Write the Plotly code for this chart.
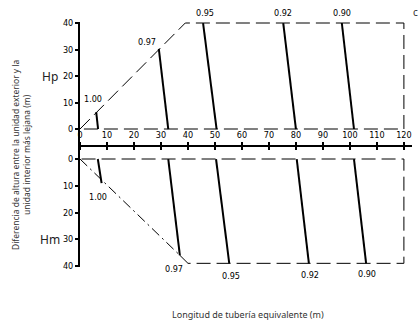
import plotly.graph_objects as go

# ---- data ----
x_ticks = [0, 10, 20, 30, 40, 50, 60, 70, 80, 90, 100, 110, 120]
y_ticks = [0, 10, 20, 30, 40]
factor_labels = ["1.00", "0.97", "0.95", "0.92", "0.90"]

# Hp (outdoor unit above): factor lines from upper end to lower end
hp_upper_x = [6.0, 29.2, 45.6, 75.3, 97.0]
hp_upper_y = [6.4, 30.2, 40.0, 40.0, 40.0]
hp_lower_x = [6.7, 32.7, 50.6, 80.0, 101.5]
hp_lower_y = [0, 0, 0, 0, 0]
hp_bound_x = [0, 39, 120, 120, 0]
hp_bound_y = [0, 40, 40, 0, 0]

# Hm (outdoor unit below)
hm_upper_x = [6.6, 32.7, 50.4, 80.3, 101.5]
hm_upper_y = [0, 0, 0, 0, 0]
hm_lower_x = [8.0, 37.0, 55.3, 84.8, 106.0]
hm_lower_y = [9.0, 36.0, 39.0, 39.0, 39.0]
hm_diag_x = [0, 37]
hm_diag_y = [0, 36]
hm_bound_x = [37, 40, 120, 120, 0]
hm_bound_y = [36, 39, 39, 0, 0]

FONT = "Liberation Sans Narrow, DejaVu Sans Condensed, Arial Narrow, sans-serif"
TITLE_FONT = "Noto Sans, Liberation Sans, sans-serif"

fig = go.Figure()

dash_long = "14px,6px"
fig.add_trace(go.Scatter(x=hp_bound_x, y=hp_bound_y, mode="lines",
                         line=dict(color="black", width=1, dash=dash_long),
                         xaxis="x", yaxis="y", hoverinfo="skip"))
fig.add_trace(go.Scatter(x=hm_bound_x, y=hm_bound_y, mode="lines",
                         line=dict(color="black", width=1, dash=dash_long),
                         xaxis="x2", yaxis="y2", hoverinfo="skip"))
fig.add_trace(go.Scatter(x=hm_diag_x, y=hm_diag_y, mode="lines",
                         line=dict(color="black", width=1, dash="10px,4px,2px,4px"),
                         xaxis="x2", yaxis="y2", hoverinfo="skip"))

for i in range(len(factor_labels)):
    fig.add_trace(go.Scatter(x=[hp_upper_x[i], hp_lower_x[i]], y=[hp_upper_y[i], hp_lower_y[i]],
                             mode="lines", line=dict(color="black", width=2),
                             xaxis="x", yaxis="y", hoverinfo="skip"))
    fig.add_trace(go.Scatter(x=[hm_upper_x[i], hm_lower_x[i]], y=[hm_upper_y[i], hm_lower_y[i]],
                             mode="lines", line=dict(color="black", width=2),
                             xaxis="x2", yaxis="y2", hoverinfo="skip"))

annotations = []
hp_shift = [(-3, 13), (-12, 7), (2, 10), (0, 10), (0, 10)]
for i, lab in enumerate(factor_labels):
    annotations.append(dict(x=hp_upper_x[i], y=hp_upper_y[i], xref="x", yref="y",
                            xanchor="center", yanchor="middle",
                            text=lab, showarrow=False, xshift=hp_shift[i][0], yshift=hp_shift[i][1],
                            font=dict(family=FONT, size=9, color="black")))
hm_shift = [(-4, -14), (-6, -14), (2, -13), (1, -12), (1, -11)]
for i, lab in enumerate(factor_labels):
    annotations.append(dict(x=hm_lower_x[i], y=hm_lower_y[i], xref="x2", yref="y2",
                            xanchor="center", yanchor="middle",
                            text=lab, showarrow=False, xshift=hm_shift[i][0], yshift=hm_shift[i][1],
                            font=dict(family=FONT, size=9, color="black")))

annotations += [
    dict(x=0, y=20, xref="paper", yref="y", xshift=-30, xanchor="center", yanchor="middle",
         text="Hp", showarrow=False, font=dict(family=TITLE_FONT, size=12, color="#222")),
    dict(x=0, y=30, xref="paper", yref="y2", xshift=-30, xanchor="center", yanchor="middle",
         text="Hm", showarrow=False, font=dict(family=TITLE_FONT, size=12, color="#222")),
    dict(x=-0.1777, y=0.457, xref="paper", yref="paper", textangle=-90, showarrow=False,
         xanchor="center", yanchor="middle",
         text="Diferencia de altura entre la unidad exterior y la<br>unidad interior más lejana (m)",
         font=dict(family=TITLE_FONT, size=8.5, color="#333")),
    dict(x=0.506, y=-0.192, xref="paper", yref="paper", showarrow=False,
         xanchor="center", yanchor="middle",
         text="Longitud de tubería equivalente (m)",
         font=dict(family=TITLE_FONT, size=9, color="#333")),
    dict(x=1.012, y=1.041, xref="paper", yref="paper", showarrow=False, text="c",
         xanchor="center", yanchor="middle",
         font=dict(family=TITLE_FONT, size=10, color="#333")),
]

split = 120 / 245
fig.update_layout(
    width=419, height=322,
    margin=dict(l=80, r=7, t=22, b=55),
    paper_bgcolor="white", plot_bgcolor="white",
    showlegend=False,
    annotations=annotations,
    xaxis=dict(domain=[0, 1], range=[0, 123], anchor="y", showgrid=False, zeroline=False,
               showline=False, ticks="", showticklabels=False),
    xaxis2=dict(domain=[0, 1], range=[0, 123], anchor="y2", side="top",
                showgrid=False, zeroline=False, showline=True, linecolor="black", linewidth=2,
                tickvals=x_ticks, ticktext=[str(v) for v in x_ticks],
                ticks="outside", ticklen=3, tickwidth=1.5, tickcolor="black",
                minor=dict(tickvals=x_ticks, ticks="inside", ticklen=3, tickwidth=1.5,
                           tickcolor="black", showgrid=False),
                tickfont=dict(family=FONT, size=9, color="black")),
    yaxis=dict(domain=[split, 1], range=[-6.79, 40.38], anchor="x", showgrid=False, zeroline=False,
               showline=True, linecolor="black", linewidth=2,
               tickvals=y_ticks, ticks="outside", ticklen=3, tickwidth=1.5, tickcolor="black",
               tickfont=dict(family=FONT, size=9, color="black")),
    yaxis2=dict(domain=[0, split], range=[40.37, -4.49], anchor="x2", showgrid=False, zeroline=False,
                showline=True, linecolor="black", linewidth=2,
                tickvals=y_ticks, ticks="outside", ticklen=3, tickwidth=1.5, tickcolor="black",
                tickfont=dict(family=FONT, size=9, color="black")),
)

fig.write_html("out.html", config={"displayModeBar": False},
               post_script="document.body.style.margin='0';")
